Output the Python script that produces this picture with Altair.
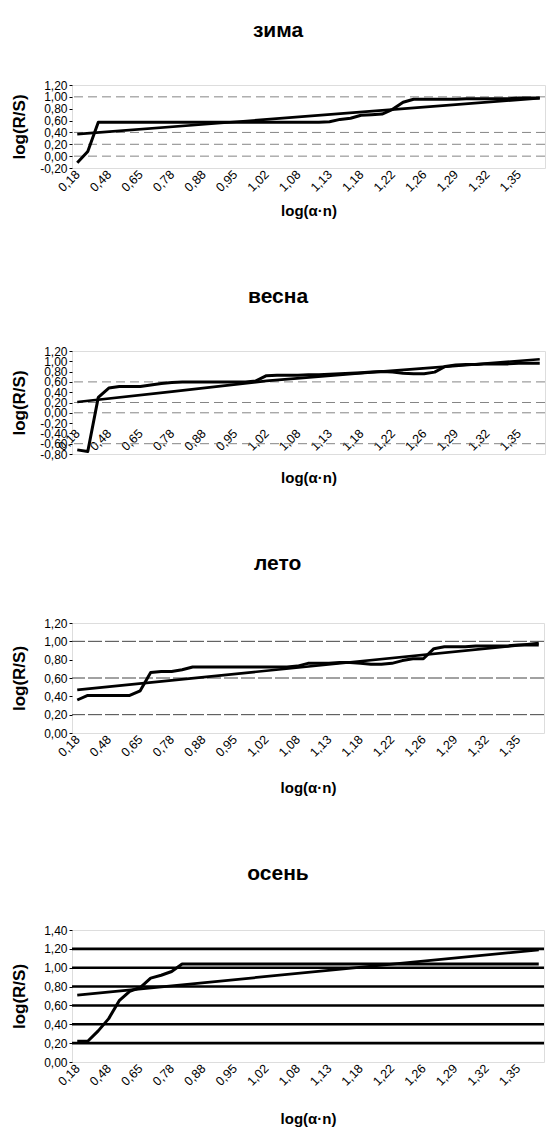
import json
import altair as alt
import pandas as pd

# ---------------- data ----------------
x_labels = ["0,18", "0,48", "0,65", "0,78", "0,88", "0,95", "1,02", "1,08",
            "1,13", "1,18", "1,22", "1,26", "1,29", "1,32", "1,35"]
label_every = 3  # one label every third category (45 categories)

seasons = ["зима", "весна", "лето", "осень"]

zima_rs = [-0.11, 0.08, 0.57,
           0.57, 0.57, 0.57, 0.57, 0.57, 0.57, 0.57, 0.57, 0.57, 0.57, 0.57,
           0.57, 0.57, 0.57, 0.57, 0.57, 0.57, 0.57, 0.57, 0.57, 0.57,
           0.58, 0.62, 0.64, 0.69, 0.70, 0.71, 0.79, 0.91, 0.96,
           0.96, 0.96, 0.96, 0.96, 0.97, 0.97, 0.97, 0.97, 0.97, 0.98, 0.98, 0.98]
zima_trend_i = [0, 44]
zima_trend = [0.37, 0.98]

vesna_rs = [-0.72, -0.75, 0.30, 0.48, 0.51, 0.51, 0.51, 0.54, 0.57, 0.59,
            0.60, 0.60, 0.60, 0.60, 0.60, 0.60, 0.60,
            0.62, 0.72,
            0.73, 0.73, 0.73, 0.74, 0.74,
            0.75, 0.76, 0.77, 0.78, 0.79, 0.80, 0.79, 0.77, 0.76, 0.76, 0.79,
            0.90, 0.93, 0.94, 0.94, 0.95, 0.95, 0.95, 0.96, 0.96, 0.96]
vesna_trend_i = [0, 9, 18, 27, 36, 44]
vesna_trend = [0.21, 0.41, 0.62, 0.77, 0.91, 1.04]

leto_rs = [0.36, 0.41, 0.41, 0.41, 0.41, 0.41, 0.46, 0.66, 0.67, 0.67, 0.69, 0.72,
           0.72, 0.72, 0.72, 0.72, 0.72, 0.72, 0.72, 0.72, 0.72,
           0.73, 0.76, 0.76, 0.76, 0.77, 0.77, 0.76, 0.75, 0.75, 0.76, 0.79, 0.81, 0.81, 0.92,
           0.94, 0.94, 0.94, 0.95, 0.95, 0.95, 0.95, 0.96, 0.96, 0.96]
leto_trend_i = [0, 44]
leto_trend = [0.47, 0.98]

osen_rs = [0.22, 0.22, 0.33, 0.46, 0.65, 0.75, 0.79, 0.89, 0.92, 0.96, 1.04,
           1.04, 1.04, 1.04, 1.04, 1.04, 1.04, 1.04, 1.04, 1.04, 1.04, 1.04,
           1.04, 1.04, 1.04, 1.04, 1.04, 1.04, 1.04, 1.04, 1.04, 1.04, 1.04,
           1.04, 1.04, 1.04, 1.04, 1.04, 1.04, 1.04, 1.04, 1.04, 1.04, 1.04, 1.04]
osen_trend_i = [0, 44]
osen_trend = [0.71, 1.19]

zima_yticks = [-0.2, 0.0, 0.2, 0.4, 0.6, 0.8, 1.0, 1.2]
vesna_yticks = [-0.8, -0.6, -0.4, -0.2, 0.0, 0.2, 0.4, 0.6, 0.8, 1.0, 1.2]
leto_yticks = [0.0, 0.2, 0.4, 0.6, 0.8, 1.0, 1.2]
osen_yticks = [0.0, 0.2, 0.4, 0.6, 0.8, 1.0, 1.2, 1.4]

zima_grid = [1.0, 0.4, 0.2, 0.0]
vesna_grid = [0.6, 0.2, 0.0, -0.6]
leto_grid = [1.0, 0.6, 0.2]
osen_grid = [0.2, 0.4, 0.6, 0.8, 1.0, 1.2]

FONT = "Liberation Sans"
label_expr = json.dumps(x_labels) + "[round(datum.value/%d)]" % label_every
y_expr = "replace(replace(format(datum.value, '.2f'), '.', ','), '\u2212', '-')"


def panel(title, rs, ti, tv, yticks, grid, gstyle, width, height,
          title_offset, x_offset, x_title_pad, y_title_pad):
    n = len(rs)
    df_rs = pd.DataFrame({"i": list(range(n)), "v": rs})
    df_tr = pd.DataFrame({"i": ti, "v": tv})
    df_g = pd.DataFrame({"v": grid})

    xenc = alt.X("i:Q",
                 scale=alt.Scale(domain=[-0.5, n - 0.5], nice=False, zero=False),
                 axis=alt.Axis(values=list(range(0, n, label_every)), labelExpr=label_expr,
                               labelAngle=315, labelAlign="right", labelBaseline="middle",
                               labelPadding=4, title="log(α·n)", domain=False, ticks=False,
                               grid=False, offset=x_offset, titlePadding=x_title_pad,
                               labelOverlap=False, labelFontSize=12.5, titleFontSize=15))
    yenc = alt.Y("v:Q",
                 scale=alt.Scale(domain=[yticks[0], yticks[-1]], nice=False, zero=False),
                 axis=alt.Axis(values=yticks, labelExpr=y_expr, title="log(R/S)",
                               grid=False, domain=False, ticks=True, tickSize=3,
                               tickColor="black", labelPadding=2, labelOverlap=False,
                               titlePadding=y_title_pad, labelFontSize=12, titleFontSize=17))

    grid_layer = alt.Chart(df_g).mark_rule(**gstyle).encode(y=yenc)
    rs_layer = alt.Chart(df_rs).mark_line(color="black", strokeWidth=3,
                                          strokeJoin="round").encode(x=xenc, y=yenc)
    tr_layer = alt.Chart(df_tr).mark_line(color="black", strokeWidth=2.7).encode(x=xenc, y=yenc)

    return alt.layer(grid_layer, tr_layer, rs_layer).properties(
        width=width, height=height,
        title=alt.TitleParams(text=title, fontSize=21, font=FONT, fontWeight="bold",
                              anchor="middle", frame="bounds", offset=title_offset,
                              color="black"))


light_dash = dict(color="#777777", strokeWidth=0.9, strokeDash=[9, 5])
dark_thin = dict(color="#444444", strokeWidth=1.0, strokeDash=[14, 3])
thick = dict(color="black", strokeWidth=2.6)

p1 = panel(seasons[0], zima_rs, zima_trend_i, zima_trend, zima_yticks, zima_grid,
           light_dash, 473, 83, 38, 0, 10, 11)
p2 = panel(seasons[1], vesna_rs, vesna_trend_i, vesna_trend, vesna_yticks, vesna_grid,
           light_dash, 473, 103, 38, -27, 18, 11)
p3 = panel(seasons[2], leto_rs, leto_trend_i, leto_trend, leto_yticks, leto_grid,
           dark_thin, 472, 110, 43, 0, 22, 15)
p4 = panel(seasons[3], osen_rs, osen_trend_i, osen_trend, osen_yticks, osen_grid,
           thick, 472, 132, 40, 0, 24, 15)

chart = alt.concat(p1, p2, p3, p4, columns=1, align="none", spacing=65).properties(
    padding={"left": 2, "top": 11, "right": 5, "bottom": 0}
).configure_view(
    stroke="black", strokeWidth=1.5
).configure_axis(
    labelFont=FONT, labelFontWeight="bold", labelColor="black",
    titleFont=FONT, titleFontWeight="bold", titleColor="black"
).configure(background="white")

chart.save("out.html", embed_options={"renderer": "svg", "actions": False})
